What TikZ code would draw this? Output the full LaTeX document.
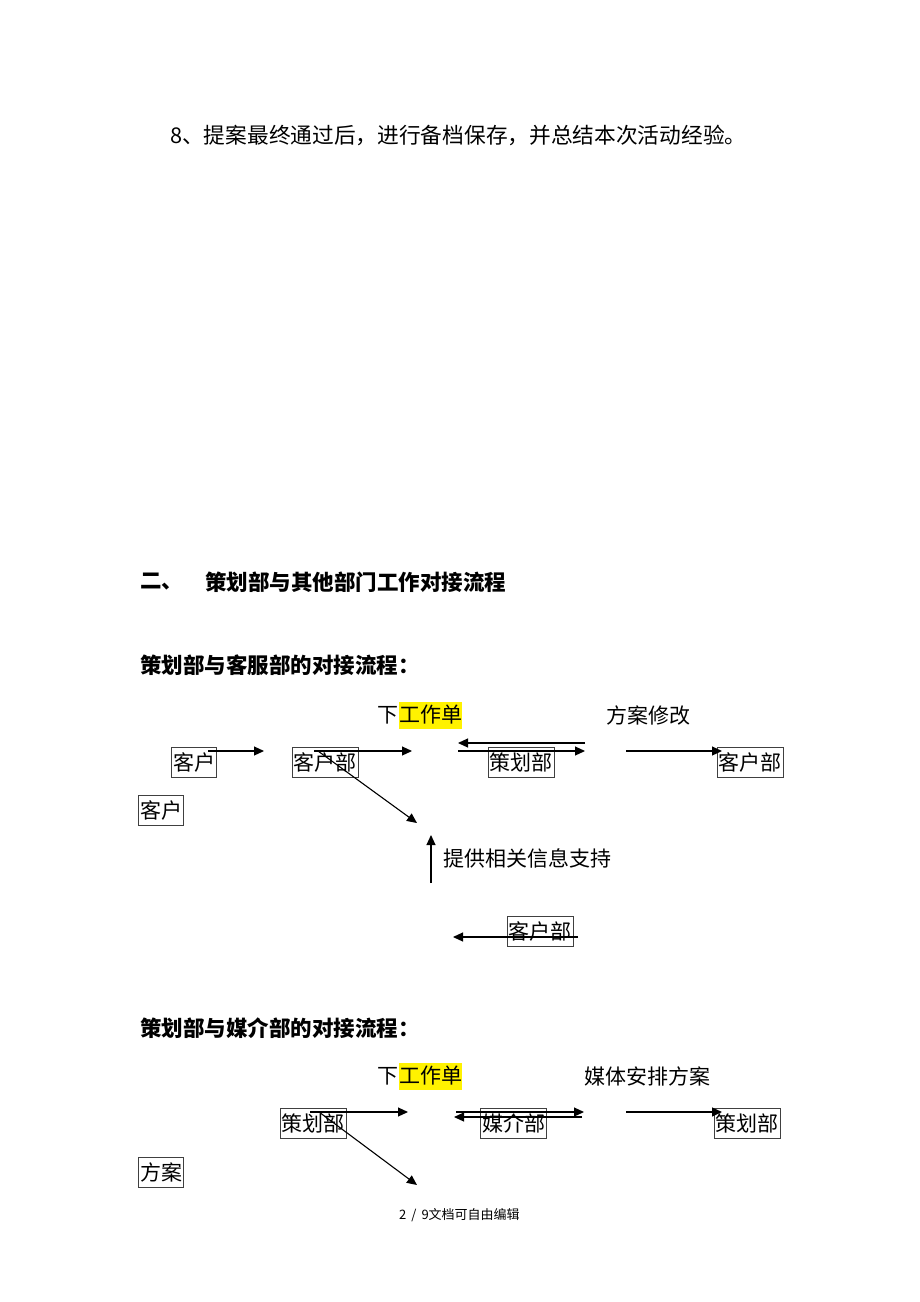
\documentclass[tikz,border=0pt]{standalone}
\usepackage{fontspec}
\newfontfamily\cjk{Noto Sans CJK SC}
\usetikzlibrary{arrows.meta}
\begin{document}
\begin{tikzpicture}[x=1pt,y=-1pt,
  txt/.style={font=\cjk\fontsize{21}{25}\selectfont, inner sep=0pt, anchor=west},
  hd/.style={font=\cjk\bfseries\fontsize{21.5}{25}\selectfont, inner sep=0pt, anchor=west},
  hl/.style={txt, fill=yellow, minimum height=27pt},
  bx/.style={draw=black!75, line width=0.8pt, font=\cjk\fontsize{21}{25}\selectfont, inner xsep=1.5pt, inner ysep=0pt, minimum height=30pt},
  ar/.style={line width=1.1pt, -{Triangle[length=10pt,width=9pt]}},
  foot/.style={font=\cjk\fontsize{13}{15}\selectfont, inner sep=0pt, anchor=west},
]
\useasboundingbox[fill=white] (0,0) rectangle (920,1302);

% top text
\node[txt, font=\cjk\fontsize{21.7}{25}\selectfont] (t8) at (170,135) {8、提案最终通过后，进行备档保存，并总结本次活动经验。};

% headings
\node[hd] (h2a) at (140,582) {二、};
\node[hd] (h2b) at (205,582) {策划部与其他部门工作对接流程};
\node[hd] (h3) at (140,665) {策划部与客服部的对接流程：};

% ---------- diagram 1 ----------
\node[hl] (hl1) at (399,715) {工作单};
\node[txt, anchor=east] (xia1) at (hl1.west) {下};
\node[txt] (fx) at (606,715) {方案修改};

\node[bx] (k1) at (194,762) {客户};
\node[bx] (kb1) at (325,762) {客户部};
\node[bx] (ch1) at (521,762) {策划部};
\node[bx] (kb2) at (750,762) {客户部};
\node[bx] (k2) at (161,810.5) {客户};
\node[txt] (tg) at (443,858) {提供相关信息支持};
\node[bx] (kb3) at (540,931) {客户部};

\coordinate (a1s) at (208,751);
\coordinate (a1e) at (264,751);
\coordinate (a2s) at (314,751);
\coordinate (a2e) at (412,751);
\coordinate (d1s) at (318,751);
\coordinate (d1e) at (417,823);
\coordinate (b1l) at (458,743);
\coordinate (b1r) at (585,743);
\coordinate (b2l) at (458,751);
\coordinate (b2r) at (585,751);
\coordinate (c1s) at (626,751);
\coordinate (c1e) at (722,751);
\coordinate (u1s) at (431,883);
\coordinate (u1e) at (431,835);
\coordinate (l1s) at (578,937);
\coordinate (l1e) at (453,937);

\draw[ar] (a1s) -- (a1e);
\draw[ar] (a2s) -- (a2e);
\draw[ar] (d1s) -- (d1e);
\draw[ar] (b1r) -- (b1l);
\draw[ar] (b2l) -- (b2r);
\draw[ar] (c1s) -- (c1e);
\draw[ar] (u1s) -- (u1e);
\draw[ar] (l1s) -- (l1e);

% ---------- diagram 2 ----------
\node[hd] (h4) at (140,1028) {策划部与媒介部的对接流程：};
\node[hl] (hl2) at (399,1076) {工作单};
\node[txt, anchor=east] (xia2) at (hl2.west) {下};
\node[txt] (mt) at (584,1076) {媒体安排方案};

\node[bx] (ch2) at (313,1123.5) {策划部};
\node[bx] (mj) at (513.5,1123.5) {媒介部};
\node[bx] (ch3) at (747,1123.5) {策划部};
\node[bx] (fa) at (161,1172) {方案};

\coordinate (e1s) at (310,1112);
\coordinate (e1e) at (408,1112);
\coordinate (f1s) at (319,1112);
\coordinate (f1e) at (417,1185);
\coordinate (g1l) at (456,1112);
\coordinate (g1r) at (584,1112);
\coordinate (g2l) at (454,1117);
\coordinate (g2r) at (582,1117);
\coordinate (h1s) at (626,1112);
\coordinate (h1e) at (722,1112);

\draw[ar] (e1s) -- (e1e);
\draw[ar] (f1s) -- (f1e);
\draw[ar] (g1l) -- (g1r);
\draw[ar] (g2r) -- (g2l);
\draw[ar] (h1s) -- (h1e);

% footer
\node[foot] (ft) at (399,1215) {2\hspace{5pt}/\hspace{5pt}9文档可自由编辑};
\end{tikzpicture}
\end{document}
